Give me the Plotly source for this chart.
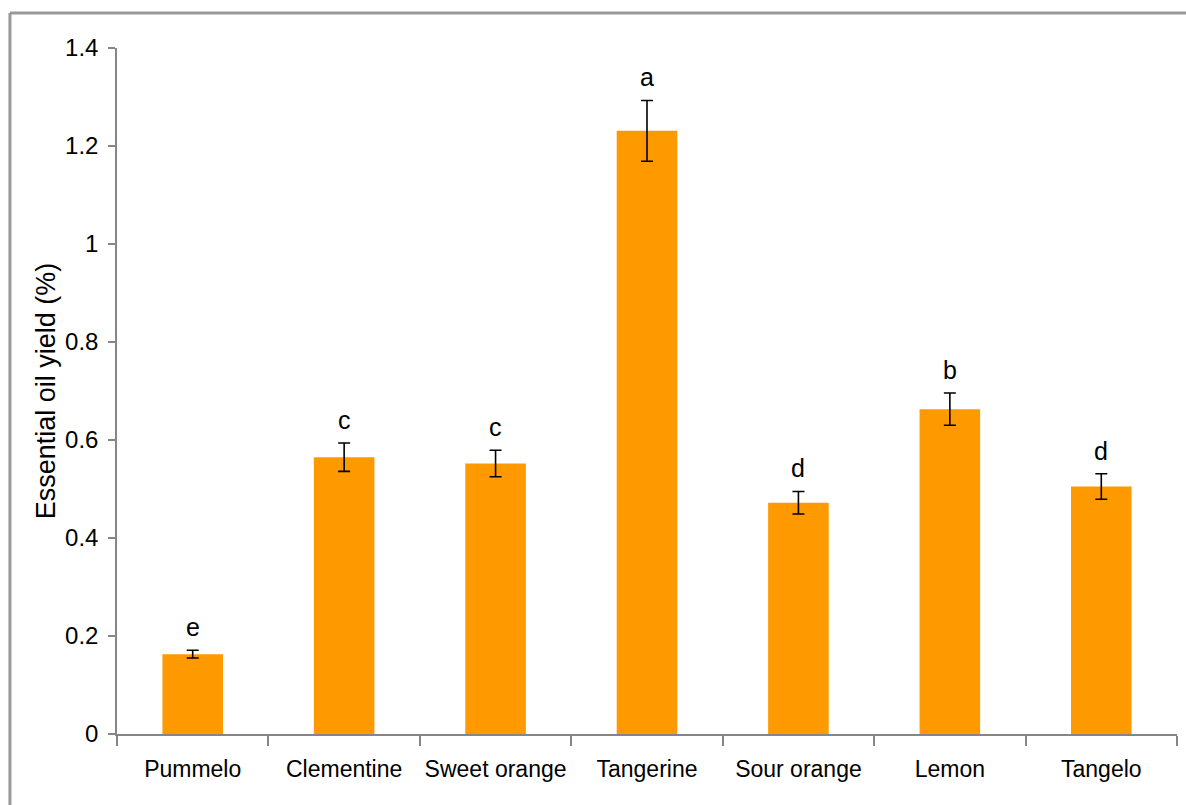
import plotly.graph_objects as go

categories = ["Pummelo", "Clementine", "Sweet orange", "Tangerine", "Sour orange", "Lemon", "Tangelo"]
yield_pct = [0.163, 0.565, 0.552, 1.231, 0.472, 0.663, 0.505]
errors = [0.008, 0.029, 0.027, 0.062, 0.023, 0.033, 0.026]
letters = ["e", "c", "c", "a", "d", "b", "d"]
y_ticks = [0, 0.2, 0.4, 0.6, 0.8, 1.0, 1.2, 1.4]
y_tick_text = ["0", "0.2", "0.4", "0.6", "0.8", "1", "1.2", "1.4"]

FONT = "Liberation Sans, Arial, sans-serif"

fig = go.Figure()
fig.add_trace(go.Bar(
    x=categories, y=yield_pct, width=0.4,
    marker=dict(color="#FF9900", line=dict(width=0)),
    error_y=dict(type="data", array=errors, visible=True, color="black", thickness=1.6, width=6),
    showlegend=False,
))

for c, v, e, l in zip(categories, yield_pct, errors, letters):
    fig.add_annotation(x=c, y=v + e, text=l, showarrow=False, yanchor="bottom",
                       yshift=7, font=dict(family=FONT, size=25, color="black"))

# outer frame lines (top and left)
fig.add_shape(type="line", xref="paper", yref="paper", x0=-0.101, x1=1.2, y0=1.051, y1=1.051,
              line=dict(color="#999999", width=3))
fig.add_shape(type="line", xref="paper", yref="paper", x0=-0.101, x1=-0.101, y0=1.051, y1=-0.2,
              line=dict(color="#999999", width=3))

fig.update_layout(
    width=1186, height=805,
    margin=dict(l=117, r=9, t=48, b=71, autoexpand=False),
    paper_bgcolor="white", plot_bgcolor="white",
    font=dict(family=FONT, color="black"),
    bargap=0.6,
)
fig.update_xaxes(
    showline=True, linecolor="#868686", linewidth=1.5,
    ticks="outside", tickson="boundaries", ticklen=10, tickcolor="#868686", tickwidth=1.5,
    tickfont=dict(family=FONT, size=23, color="black"), tickangle=0, ticklabelstandoff=14,
    showgrid=False, automargin=False,
)
fig.update_yaxes(
    range=[0, 1.4], tickvals=y_ticks, ticktext=y_tick_text,
    showline=True, linecolor="#868686", linewidth=1.5,
    ticks="outside", ticklen=7, tickcolor="#868686", tickwidth=1.5,
    tickfont=dict(family=FONT, size=24, color="black"), ticklabelstandoff=5,
    showgrid=False, zeroline=False, automargin=False,
    title=dict(text="Essential oil yield (%)", font=dict(family=FONT, size=27, color="black"), standoff=2),
)

fig.write_html("out.html")
